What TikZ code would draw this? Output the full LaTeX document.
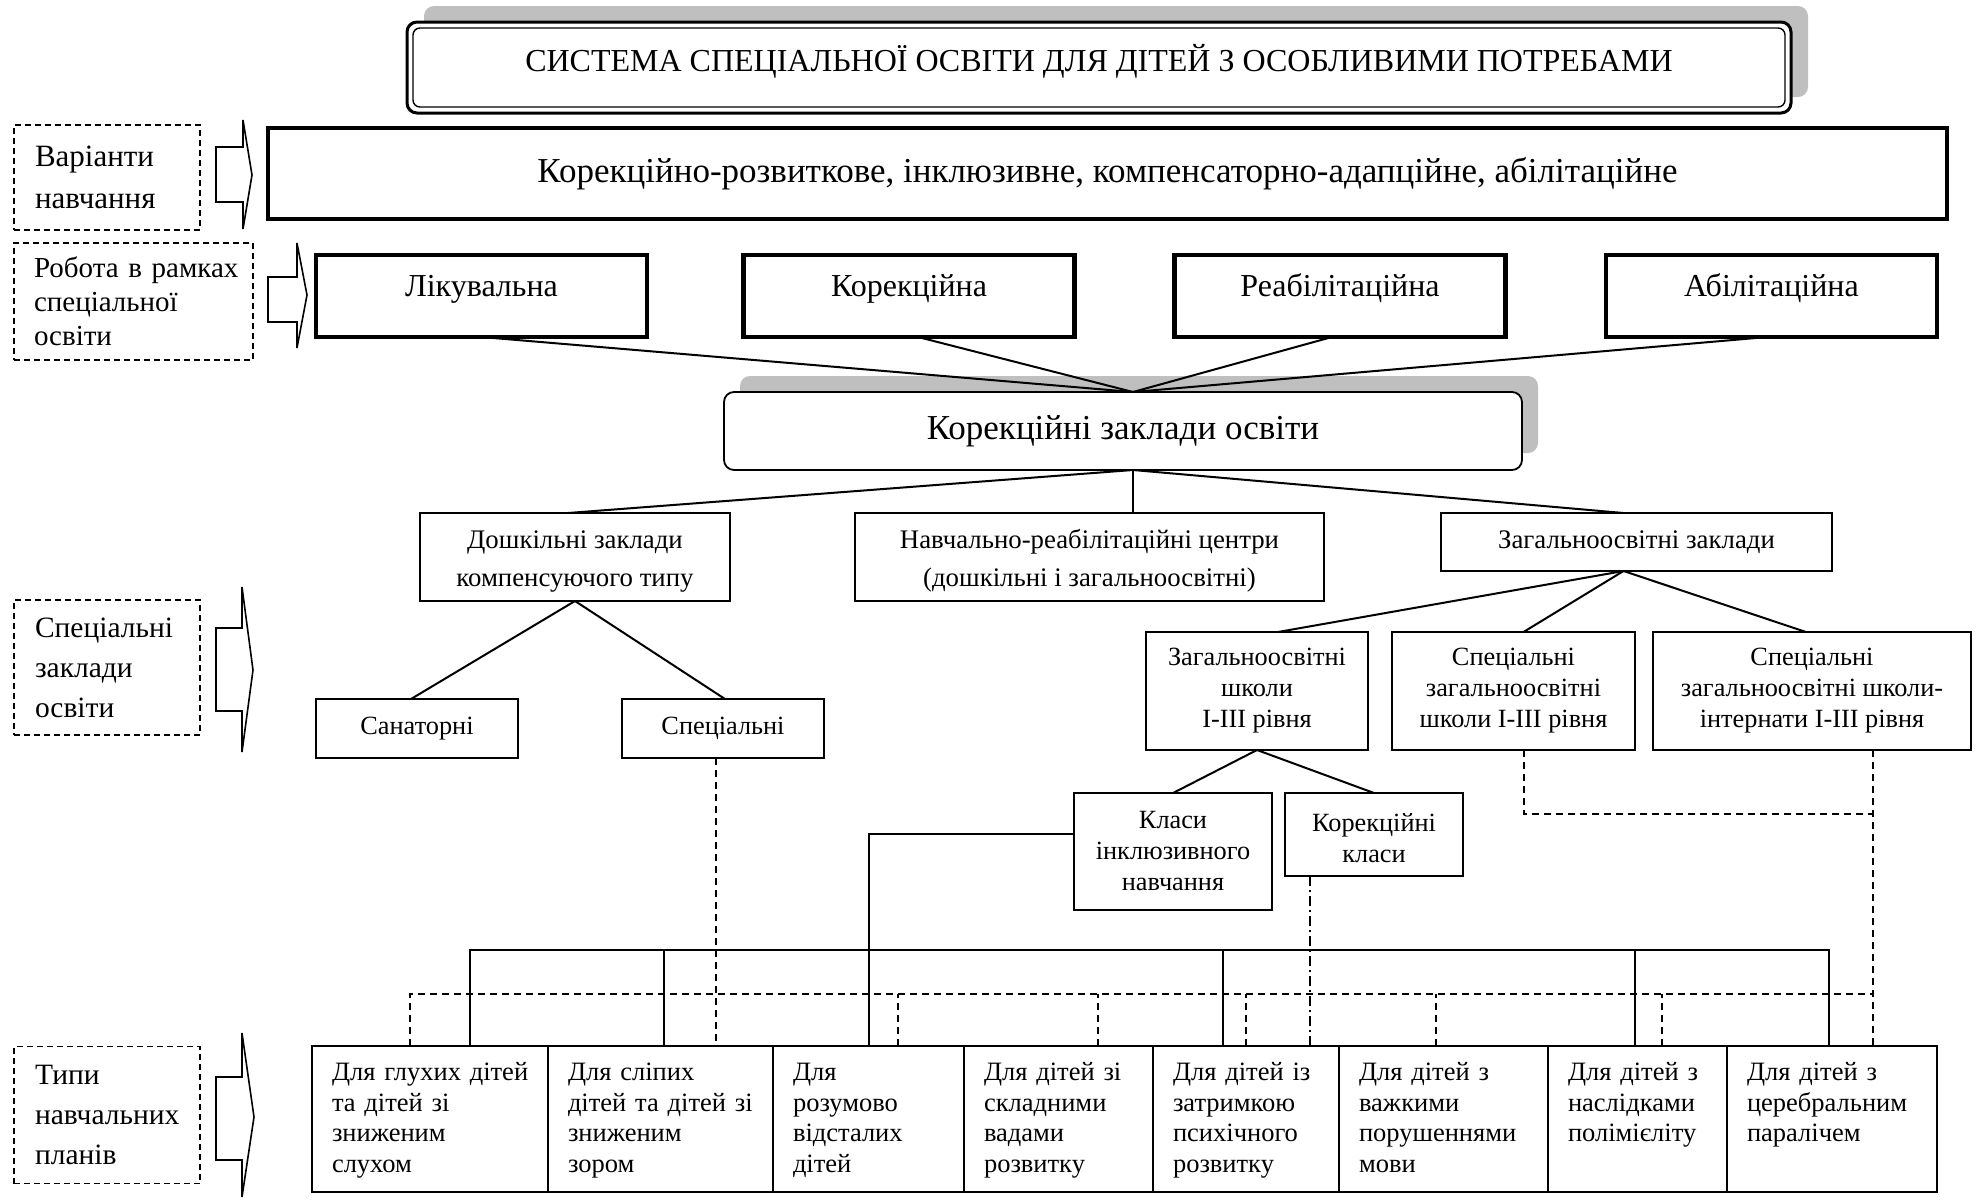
\documentclass[tikz,border=0pt]{standalone}
\usepackage{fontspec}
\setmainfont{Liberation Serif}
\hyphenpenalty=10000
\exhyphenpenalty=10000
\begin{document}
\begin{tikzpicture}[x=1pt,y=-1pt,
  every node/.style={inner sep=0pt, outer sep=0pt},
  fs/.style 2 args={font=\fontsize{#1}{#2}\selectfont},
  thinbox/.style={draw, line width=2pt, align=center},
  thickbox/.style={draw, line width=4.5pt, align=center},
  lbl/.style={draw, dash pattern=on 6pt off 4pt, line width=1.8pt, align=left, inner xsep=21pt, fs={29.5}{40}},
  plan/.style={draw, line width=2.2pt, align=left, inner xsep=20pt, anchor=north west,
               minimum height=146pt, fs={26.5}{30.5}},
  conn/.style={line width=2pt},
  dline/.style={line width=2pt, dash pattern=on 7pt off 5pt},
  ddline/.style={line width=2pt, dash pattern=on 10pt off 4pt on 2pt off 4pt},
  blockarrow/.style={draw, line width=1.6pt, line join=miter},
  shade/.style={fill=black!25}
]
\useasboundingbox (0,0) rectangle (1981,1200);
% first-line and last-line struts for the curricula boxes
\newcommand\topline{\rule{0pt}{24pt}}

% --- title with double frame and shadow
\fill[shade, rounded corners=10pt] (424,6) rectangle (1808,97);
\node[draw, fill=white, line width=3pt, rounded corners=10pt, minimum width=1384pt,
      minimum height=91pt, fs={32}{38}, text height=22pt, text depth=15pt] (title) at (1099,67.5)
  {СИСТЕМА СПЕЦІАЛЬНОЇ ОСВІТИ ДЛЯ ДІТЕЙ З ОСОБЛИВИМИ ПОТРЕБАМИ};
\draw[line width=1.4pt, rounded corners=7pt]
  ([shift={(6pt,-6pt)}]title.north west) rectangle ([shift={(-6pt,6pt)}]title.south east);

% --- variants of education
\node[thickbox, minimum width=1679pt, minimum height=91pt, fs={35}{40}] (var) at (1107.5,173.5)
  {Корекційно-розвиткове, інклюзивне, компенсаторно-адапційне, абілітаційне};

% --- left dashed captions
\node[lbl, minimum width=186pt, minimum height=105pt, text width=144pt, fs={31}{42}] (cap1) at (107,177.5)
  {Варіанти\\ навчання};
\node[lbl, minimum width=239pt, minimum height=117pt, inner xsep=20pt, text width=199pt, fs={29}{34}] (cap2) at (133.5,301.5)
  {Робота~в~рамках\\ спеціальної\\ освіти};
\node[lbl, minimum width=186pt, minimum height=135pt, text width=144pt] (cap3) at (107,667.5)
  {Спеціальні\\ заклади\\ освіти};
\node[lbl, minimum width=186pt, minimum height=137pt, text width=144pt] (cap4) at (107,1115)
  {Типи\\ навчальних\\ планів};

% --- block arrows next to captions
\draw[blockarrow] (216,147) -- (243,147) -- (243,120) -- (252,175) -- (243,229) -- (243,202) -- (216,202) -- cycle;
\draw[blockarrow] (268,277) -- (297,277) -- (297,243) -- (307,295) -- (297,348) -- (297,322) -- (268,322) -- cycle;
\draw[blockarrow] (216,628) -- (242,628) -- (242,587) -- (253,670) -- (242,752) -- (242,711) -- (216,711) -- cycle;
\draw[blockarrow] (216,1077) -- (242,1077) -- (242,1033) -- (254,1117) -- (242,1197) -- (242,1160) -- (216,1160) -- cycle;

% --- kinds of work
\tikzset{work/.style={thickbox, minimum width=331pt, minimum height=82pt, fs={32}{38}, text height=21pt, text depth=21pt}}
\node[work] (lik)  at (481.5,296) {Лікувальна};
\node[work] (kor)  at (909,296)   {Корекційна};
\node[work] (reab) at (1340,296)  {Реабілітаційна};
\node[work] (abil) at (1771.5,296){Абілітаційна};

% --- correctional institutions
\fill[shade, rounded corners=10pt] (740,376) rectangle (1538,453);
\node[draw, fill=white, line width=1.8pt, rounded corners=10pt, minimum width=798pt,
      minimum height=78pt, fs={35}{40}] (kz) at (1123,431) {Корекційні заклади освіти};

% --- types of institutions
\node[thinbox, minimum width=310pt, minimum height=88pt, fs={26.8}{38}] (dosh) at (575,557)
  {\rule{0pt}{27pt}Дошкільні заклади\\ компенсуючого типу};
\node[thinbox, minimum width=469pt, minimum height=88pt, fs={26.8}{38}] (navch) at (1089.5,557)
  {\rule{0pt}{27pt}Навчально-реабілітаційні центри\\ (дошкільні і загальноосвітні)};
\node[thinbox, minimum width=391pt, minimum height=58pt, fs={26.8}{30}] (zag) at (1636.5,542)
  {Загальноосвітні заклади};

\node[thinbox, minimum width=202pt, minimum height=59pt, fs={26.3}{30}] (san)  at (417,728.5) {Санаторні};
\node[thinbox, minimum width=202pt, minimum height=59pt, fs={26.3}{30}] (spec) at (723,728.5) {Спеціальні};

\node[thinbox, minimum width=222pt, minimum height=118pt, fs={26.3}{31}] (sch1) at (1257,691)
  {Загальноосвітні\\ школи\\ I-III рівня};
\node[thinbox, minimum width=243pt, minimum height=118pt, fs={26.3}{31}] (sch2) at (1513.5,691)
  {Спеціальні\\ загальноосвітні\\ школи I-III рівня};
\node[thinbox, minimum width=318pt, minimum height=118pt, fs={26.3}{31}] (sch3) at (1812,691)
  {Спеціальні\\ загальноосвітні школи-\\ інтернати I-III рівня};

\node[thinbox, minimum width=198pt, minimum height=117pt, fs={26.3}{31}] (incl) at (1173,851.5)
  {Класи\\ інклюзивного\\ навчання};
\node[thinbox, minimum width=178pt, minimum height=83pt, fs={26.3}{31}] (korkl) at (1374,834.5)
  {\rule{0pt}{26pt}Корекційні\\ класи};

% --- curricula
\node[plan, text width=196pt] (b1) at (312,1046)  {\topline Для~глухих~дітей\\ та~дітей~зі\\ зниженим\\ слухом\strut};
\node[plan, text width=185pt] (b2) at (548,1046)  {\topline Для~сліпих\\ дітей~та~дітей~зі\\ зниженим\\ зором\strut};
\node[plan, text width=151pt] (b3) at (773,1046)  {\topline Для\\ розумово\\ відсталих\\ дітей\strut};
\node[plan, text width=149pt] (b4) at (964,1046)  {\topline Для~дітей~зі\\ складними\\ вадами\\ розвитку\strut};
\node[plan, text width=146pt] (b5) at (1153,1046) {\topline Для~дітей~із\\ затримкою\\ психічного\\ розвитку\strut};
\node[plan, text width=169pt] (b6) at (1339,1046) {\topline Для~дітей~з\\ важкими\\ порушеннями\\ мови\strut};
\node[plan, text width=139pt] (b7) at (1548,1046) {\topline Для~дітей~з\\ наслідками\\ полімієліту\\ \strut};
\node[plan, text width=170pt] (b8) at (1727,1046) {\topline Для~дітей~з\\ церебральним\\ паралічем\\ \strut};

% --- tree connectors
\coordinate (ktop) at ([xshift=10pt]kz.north);
\coordinate (kbot) at ([xshift=10pt]kz.south);
\draw[conn] (lik.south) -- (ktop);
\draw[conn] ([xshift=9pt]kor.south) -- (ktop);
\draw[conn] ([xshift=-8pt]reab.south) -- (ktop);
\draw[conn] ([xshift=-4pt]abil.south) -- (ktop);

\draw[conn] (kbot) -- ([xshift=-7pt]dosh.north);
\draw[conn] (kbot) -- (kbot |- navch.north);
\draw[conn] (kbot) -- ([xshift=-13pt]zag.north);

\draw[conn] (dosh.south) -- ([xshift=-6pt]san.north);
\draw[conn] (dosh.south) -- ([xshift=2pt]spec.north);

\coordinate (zbot) at ([xshift=-13pt]zag.south);
\draw[conn] (zbot) -- ([xshift=21pt]sch1.north);
\draw[conn] (zbot) -- ([xshift=10pt]sch2.north);
\draw[conn] (zbot) -- ([xshift=-6pt]sch3.north);

\draw[conn] (sch1.south) -- (incl.north);
\draw[conn] (sch1.south) -- (korkl.north);

% --- links to curricula: solid (inclusive classes)
\draw[conn] ([yshift=18pt]incl.west) -| (b3.north);
\draw[conn] ([xshift=158pt]b1.north west) -- ++(0,-96) -| ([xshift=102pt]b8.north west);
\draw[conn] ([xshift=116pt]b2.north west) -- ++(0,-96);
\draw[conn] ([xshift=70pt]b5.north west) -- ++(0,-96);
\draw[conn] ([xshift=87pt]b7.north west) -- ++(0,-96);

% --- dash-dot (correctional classes)
\draw[ddline] ([xshift=-64pt]korkl.south) -- ([xshift=-64pt]korkl.south |- b5.north);

% --- dashed (special schools)
\coordinate (dbr) at (1873,994);
\draw[dline] ([xshift=10pt]sch2.south) |- ([xshift=61pt,yshift=-64pt]sch3.south);
\draw[dline] ([xshift=61pt]sch3.south) -- ([xshift=146pt]b8.north west);
\draw[dline] ([xshift=98pt]b1.north west) |- (dbr);
\draw[dline] ([xshift=-7pt]spec.south) -- ([xshift=-7pt]spec.south |- b2.north);
\draw[dline] ([xshift=125pt]b3.north west) -- ++(0,-52);
\draw[dline] ([xshift=134pt]b4.north west) -- ++(0,-52);
\draw[dline] ([xshift=93pt]b5.north west) -- ++(0,-52);
\draw[dline] ([xshift=97pt]b6.north west) -- ++(0,-52);
\draw[dline] ([xshift=114pt]b7.north west) -- ++(0,-52);
\end{tikzpicture}
\end{document}
